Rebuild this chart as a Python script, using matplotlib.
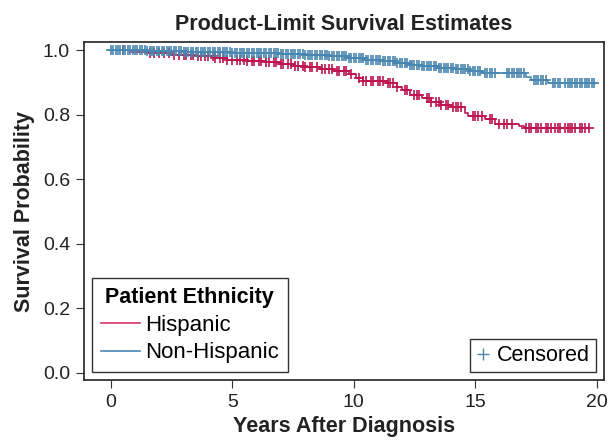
import numpy as np
import matplotlib
matplotlib.use('Agg')
import matplotlib.pyplot as plt
from matplotlib.lines import Line2D

plt.rcParams['font.family'] = ['Liberation Sans', 'DejaVu Sans']

# Hispanic: step times (years) and survival after each step
hisp_t = [0, 0.8, 1.5, 2.5, 3.5, 4.3, 4.8, 5.6, 6.4, 7.0, 7.5, 8.0, 8.6, 9.2, 9.8, 10.1,
          10.4, 11.4, 11.8, 12.0, 12.3, 12.8, 13.2, 13.6, 14.0, 14.6, 14.7, 15.4, 15.8,
          16.8, 17.0]
hisp_s = [1.0, 0.995, 0.99, 0.985, 0.98, 0.975, 0.97, 0.967, 0.963, 0.958, 0.95, 0.946,
          0.94, 0.935, 0.925, 0.912, 0.905, 0.898, 0.885, 0.875, 0.862, 0.852, 0.84, 0.83,
          0.822, 0.805, 0.795, 0.785, 0.772, 0.765, 0.757]
hisp_end = 19.7
hisp_cens = [0.5, 1.6, 1.8, 2.0, 2.2, 2.4, 2.6, 2.8, 3.0, 3.1, 3.3, 3.4, 3.6, 3.7, 3.9, 4.0,
             4.2, 4.3, 4.5, 4.6, 4.8, 5.0, 5.2, 5.3, 5.5, 5.6, 5.8, 5.9, 6.1, 6.2, 6.4, 6.5,
             6.7, 6.8, 7.0, 7.1, 7.3, 7.4, 7.6, 7.7, 7.9, 8.0, 8.2, 8.3, 8.5, 8.7, 8.8, 9.0,
             9.1, 9.3, 9.4, 9.6, 9.7, 9.9, 10.2, 10.4, 10.5, 10.7, 10.8, 11.0, 11.1, 11.2,
             11.4, 11.5, 11.6, 11.8, 12.1, 12.2, 12.5, 12.6, 12.7, 13.0, 13.1, 13.2, 13.4,
             13.5, 13.6, 13.8, 13.9, 14.1, 14.2, 14.3, 14.4, 14.9, 15.0, 15.1, 15.3, 15.6,
             15.7, 16.0, 16.2, 16.3, 16.5, 17.1, 17.2, 17.3, 17.5, 17.6, 17.7, 17.9, 18.0,
             18.1, 18.3, 18.4, 18.5, 18.7, 18.8, 18.9, 19.0, 19.1, 19.3, 19.4, 19.5, 19.7]

# Non-Hispanic
non_t = [0, 1.5, 3.0, 5.0, 6.0, 7.0, 8.0, 9.0, 9.8, 10.5, 11.2, 11.8, 12.3, 12.8, 13.5,
         14.2, 14.8, 15.3, 17.1, 17.3, 18.0]
non_s = [1.0, 0.998, 0.995, 0.992, 0.99, 0.987, 0.984, 0.98, 0.975, 0.97, 0.965, 0.96,
         0.955, 0.95, 0.945, 0.94, 0.935, 0.928, 0.915, 0.908, 0.897]
non_end = 19.9
non_cens = [0.0, 0.1, 0.2, 0.3, 0.4, 0.5, 0.6, 0.7, 0.8, 0.9, 1.0, 1.1, 1.2, 1.3, 1.4, 1.5,
            1.6, 1.7, 1.8, 1.9, 2.0, 2.1, 2.2, 2.3, 2.4, 2.5, 2.6, 2.7, 2.8, 2.9, 3.0, 3.1,
            3.2, 3.3, 3.4, 3.5, 3.6, 3.7, 3.8, 3.9, 4.0, 4.1, 4.2, 4.3, 4.4, 4.5, 4.6, 4.7,
            4.8, 4.9, 5.0, 5.1, 5.2, 5.3, 5.4, 5.5, 5.6, 5.7, 5.8, 5.9, 6.0, 6.1, 6.2, 6.3,
            6.4, 6.5, 6.6, 6.7, 6.8, 6.9, 7.0, 7.1, 7.2, 7.3, 7.4, 7.5, 7.6, 7.7, 7.8, 7.9,
            8.0, 8.1, 8.2, 8.3, 8.4, 8.5, 8.6, 8.7, 8.8, 8.9, 9.0, 9.1, 9.2, 9.3, 9.4, 9.5,
            9.6, 9.7, 9.8, 9.9, 10.0, 10.1, 10.2, 10.3, 10.4, 10.5, 10.6, 10.7, 10.8, 10.9,
            11.0, 11.1, 11.2, 11.3, 11.4, 11.5, 11.6, 11.7, 11.8, 11.9, 12.0, 12.1, 12.2,
            12.3, 12.4, 12.5, 12.6, 12.7, 12.8, 12.9, 13.0, 13.1, 13.2, 13.3, 13.4, 13.5,
            13.6, 13.7, 13.8, 13.9, 14.0, 14.1, 14.2, 14.3, 14.4, 14.5, 14.6, 14.7, 14.8,
            14.9, 15.0, 15.1, 15.2, 15.4, 15.5, 15.6, 15.7, 15.8, 16.3, 16.4, 16.5, 16.6,
            16.7, 16.8, 16.9, 17.0, 17.4, 17.5, 17.6, 17.7, 17.8, 17.9, 18.2, 18.3, 18.4,
            18.5, 18.7, 18.8, 18.9, 19.0, 19.1, 19.2, 19.3, 19.4, 19.5, 19.6, 19.7, 19.8,
            19.9]

red = '#BE1550'
blue = '#4A87B0'


def surv_at(times, surv, t):
    idx = np.searchsorted(times, t, side='right') - 1
    return np.asarray(surv)[idx]


fig = plt.figure(figsize=(6.11, 4.45), dpi=100)
ax = fig.add_axes([0.1375, 0.146, 0.851, 0.7596])

for t, s, end, cens, col in [(hisp_t, hisp_s, hisp_end, hisp_cens, red),
                             (non_t, non_s, non_end, non_cens, blue)]:
    xs = list(t) + [end]
    ys = list(s) + [s[-1]]
    ax.step(xs, ys, where='post', color=col, lw=1.2)
    ax.plot(cens, surv_at(t, s, cens), ls='none', marker='+', ms=7, mew=1.2, color=col)

ax.set_xlim(-1.10, 20.3)
ax.set_ylim(-0.0226, 1.0248)
ax.set_xticks([0, 5, 10, 15, 20])
ax.set_yticks([0.0, 0.2, 0.4, 0.6, 0.8, 1.0])
ax.set_yticklabels(['0.0', '0.2', '0.4', '0.6', '0.8', '1.0'])
ax.tick_params(labelsize=14, length=6, color='#333333', labelcolor='#222222', pad=4)
for sp in ax.spines.values():
    sp.set_color('#333333')
    sp.set_linewidth(1.3)

ax.set_title('Product-Limit Survival Estimates', fontsize=15.5, fontweight='bold', pad=9,
             color='#222222')
ax.set_xlabel('Years After Diagnosis', fontsize=15.5, fontweight='bold', labelpad=4,
              color='#222222')
ax.set_ylabel('Survival Probability', fontsize=15.5, fontweight='bold', labelpad=6,
              color='#222222')

h1 = [Line2D([], [], color='#D6336C', lw=1.2), Line2D([], [], color=blue, lw=1.2)]
leg1 = ax.legend(h1, ['Hispanic', 'Non-Hispanic'], title='Patient Ethnicity',
                 loc='lower left', bbox_to_anchor=(0.0, 0.0), fontsize=16,
                 title_fontproperties={'weight': 'bold', 'size': 15.5},
                 fancybox=False, edgecolor='#333333', framealpha=1,
                 handlelength=1.75, borderpad=0.4, labelspacing=0.3, handletextpad=0.25,
                 borderaxespad=0.35)
leg1.get_frame().set_linewidth(1.0)
ax.add_artist(leg1)

h2 = [Line2D([], [], ls='none', marker='+', ms=9, mew=1.0, color=blue)]
leg2 = ax.legend(h2, ['Censored'], loc='lower right', bbox_to_anchor=(1.0, 0.0),
                 fontsize=15.5, fancybox=False, edgecolor='#333333', framealpha=1,
                 handlelength=0.6, borderpad=0.3, handletextpad=0.35, borderaxespad=0.35)
leg2.get_frame().set_linewidth(1.0)

fig.savefig('out.png', dpi=100)
